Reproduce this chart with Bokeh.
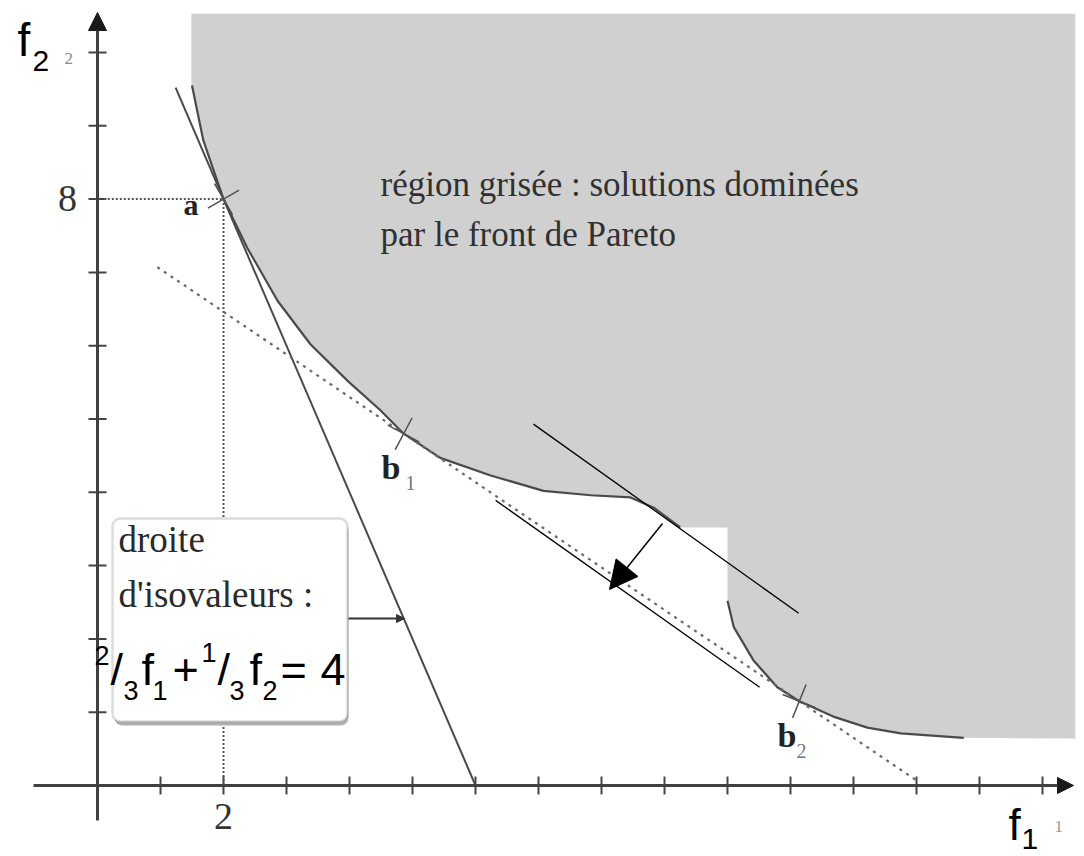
from bokeh.plotting import figure
from bokeh.models import Range1d, Label, Arrow, NormalHead, BoxAnnotation
from bokeh.embed import file_html
from bokeh.resources import INLINE

# ---- data -------------------------------------------------------------
# Pareto front, supported part (upper branch, from top-left down to the gap)
front_upper_f1 = [1.50, 1.68, 2.00, 2.38, 2.86, 3.38, 3.97, 4.49, 4.86, 5.44, 6.24, 7.08, 7.83, 8.46, 8.83, 9.25]
front_upper_f2 = [9.55, 8.80, 8.00, 7.33, 6.61, 6.02, 5.52, 5.12, 4.80, 4.47, 4.23, 4.02, 3.96, 3.93, 3.79, 3.52]
# Pareto front, lower branch after the gap
front_lower_f1 = [10.00, 10.10, 10.41, 10.79, 11.14, 11.68, 12.22, 12.75, 13.75]
front_lower_f2 = [2.52, 2.16, 1.71, 1.34, 1.15, 0.94, 0.79, 0.71, 0.65]

# named points on the front
point_names = ["a", "b", "b"]
point_subs = ["", "1", "2"]
point_f1 = [2.00, 4.86, 11.14]
point_f2 = [8.00, 4.80, 1.15]

# isovalue line  w1*f1 + w2*f2 = c
iso_w1, iso_w2, iso_c = 2 / 3, 1 / 3, 4
iso_f1_span = [1.24, 6.0]

# tangent through b1 and b2, drawn over this f1 span
tangent_f1_span = [0.95, 13.0]

# two parallel iso-lines sweeping toward the front
sweep_upper_f1 = [6.92, 11.13]
sweep_upper_f2 = [4.93, 2.35]
sweep_lower_f1 = [6.32, 10.51]
sweep_lower_f2 = [3.89, 1.34]

# dominated region extent
region_left, region_right = 1.49, 15.52
region_top, region_floor = 10.53, 0.64

# axes
x_ticks = list(range(1, 16))
y_ticks = list(range(1, 11))
x_tick_labels = {2: "2"}
y_tick_labels = {8: "8"}

# ---- pixel <-> data helpers for the 1084x856 canvas -----------------------
W, H = 1084, 856
OX, OY = 97.0, 785.0      # pixel position of the origin
UX, UY = 63.0, 73.3       # pixels per unit


def dx(px):
    return (px - OX) / UX


def dy(py):
    return (OY - py) / UY


p = figure(width=W, height=H, x_range=Range1d(dx(0), dx(W)), y_range=Range1d(dy(H), dy(0)),
           x_axis_type=None, y_axis_type=None, toolbar_location=None,
           output_backend="svg", min_border=0, outline_line_color=None,
           background_fill_color="white", border_fill_color="white")

SERIF = "Liberation Serif"
SANS = "Liberation Sans"
BASE_SHIFT = 0.37   # label box sits this fraction of the font size below the baseline


def label(text, px, py, size, font=SERIF, style="normal", color="#2a2a2a", align="left"):
    """Place a text so that its baseline lands on pixel row py."""
    p.add_layout(Label(x=dx(px), y=dy(py - BASE_SHIFT * size), text=text, text_font=font,
                       text_font_size=f"{size}px", text_font_style=style, text_color=color,
                       text_align=align, text_baseline="alphabetic"))


# ---- dominated (grey) region ------------------------------------------------
region_x = ([region_left, region_right, region_right]
            + front_lower_f1[::-1] + [front_lower_f1[0]]
            + front_upper_f1[::-1])
region_y = ([region_top, region_top, region_floor]
            + front_lower_f2[::-1] + [front_upper_f2[-1]]
            + front_upper_f2[::-1])
region_x.append(region_left)
region_y.append(front_upper_f2[0])
p.patch(region_x, region_y, fill_color="#d0d0d0", line_color=None)

# Pareto front curve
p.line(front_upper_f1, front_upper_f2, line_color="#4a4a4a", line_width=2.2)
p.line(front_lower_f1, front_lower_f2, line_color="#4a4a4a", line_width=2.2)

# ---- axes ---------------------------------------------------------------------
tick_hx, tick_hy = 9 / UX, 9 / UY
p.segment(x0=x_ticks, y0=[-tick_hy] * len(x_ticks), x1=x_ticks, y1=[tick_hy] * len(x_ticks),
          line_color="#444444", line_width=2)
p.segment(x0=[-tick_hx] * len(y_ticks), y0=y_ticks, x1=[tick_hx] * len(y_ticks), y1=y_ticks,
          line_color="#444444", line_width=2)
p.add_layout(Arrow(x_start=dx(33), y_start=0, x_end=dx(1073), y_end=0,
                   line_color="#404040", line_width=3,
                   end=NormalHead(size=16, fill_color="#1a1a1a", line_color="#1a1a1a")))
p.add_layout(Arrow(x_start=0, y_start=dy(820), x_end=0, y_end=dy(12),
                   line_color="#404040", line_width=3,
                   end=NormalHead(size=18, fill_color="#1a1a1a", line_color="#1a1a1a")))
for v, t in x_tick_labels.items():
    label(t, OX + v * UX, 830, 38, align="center", color="#333333")
for v, t in y_tick_labels.items():
    label(t, 67, OY - v * UY + 13, 38, align="center", color="#333333")

# ---- construction lines ------------------------------------------------------------
ax, ay = point_f1[0], point_f2[0]
p.line([0.1, ax], [ay, ay], line_color="#555555", line_width=2, line_dash="2 2")
p.line([ax, ax], [ay, 0], line_color="#555555", line_width=2, line_dash="2 2")

iso_f2 = [(iso_c - iso_w1 * f) / iso_w2 for f in iso_f1_span]
p.line(iso_f1_span, iso_f2, line_color="#4a4a4a", line_width=2)

slope = (point_f2[2] - point_f2[1]) / (point_f1[2] - point_f1[1])
tan_f2 = [point_f2[1] + slope * (f - point_f1[1]) for f in tangent_f1_span]
p.line(tangent_f1_span, tan_f2, line_color="#6a6a6a", line_width=2.2, line_dash="3 5")

p.line(sweep_upper_f1, sweep_upper_f2, line_color="black", line_width=1.3)
p.line(sweep_lower_f1, sweep_lower_f2, line_color="black", line_width=1.3)

# crosses on the named points
p.scatter(point_f1, point_f2, marker="cross", size=36, angle=[30, 62, 68], angle_units="deg",
          line_color="#505050", line_width=1.5)

# sweep arrow
p.add_layout(Arrow(x_start=dx(662), y_start=dy(523), x_end=dx(609), y_end=dy(589),
                   line_color="black", line_width=1.5,
                   end=NormalHead(size=28, fill_color="black", line_color="black")))

# ---- annotation box -----------------------------------------------------------------
p.add_layout(BoxAnnotation(left=dx(114), right=dx(348), top=dy(522), bottom=dy(725),
                           fill_color="#b0b0b0", fill_alpha=1, line_color=None, border_radius=8))
p.add_layout(BoxAnnotation(left=dx(112), right=dx(347), top=dy(518), bottom=dy(721),
                           fill_color="white", fill_alpha=1, line_color="#8a8a8a",
                           line_width=2.5, border_radius=8))
p.add_layout(Arrow(x_start=dx(348), y_start=dy(618), x_end=dx(404), y_end=dy(618),
                   line_color="#333333", line_width=2,
                   end=NormalHead(size=8, fill_color="#333333", line_color="#333333")))

label("droite", 118, 553, 37)
label("d'isovaleurs :", 118, 608, 37)

# formula 2/3 f1 + 1/3 f2 = 4, built from pieces
BIG, SMALL = 45, 27
pieces = [
    ("2", 94, 665, SMALL), ("/", 110, 686, BIG), ("3", 123, 700, SMALL),
    ("f", 141, 686, BIG), ("1", 152, 700, SMALL), ("+", 172, 686, BIG),
    ("1", 201, 662, SMALL), ("/", 217, 686, BIG), ("3", 229, 700, SMALL),
    ("f", 249, 686, BIG), ("2", 262, 700, SMALL), ("=", 280, 686, BIG),
    ("4", 320, 686, BIG),
]
for t, px, py, s in pieces:
    label(t, px, py, s, font=SANS, color="black")

# ---- texts ---------------------------------------------------------------------------
label("région grisée : solutions dominées", 380, 197, 35, color="#303030")
label("par le front de Pareto", 380, 247, 35, color="#303030")

label(point_names[0], 183, 215, 30, style="bold", color="#222222")
label(point_names[1], 381, 480, 34, style="bold", color="#222222")
label(point_subs[1], 405, 490, 20, color="#777777")
label(point_names[2], 777, 748, 34, style="bold", color="#222222")
label(point_subs[2], 796, 758, 20, color="#777777")

# axis names
label("f", 17, 57, 46, font=SANS, color="black")
label("2", 32, 72, 30, font=SANS, color="black")
label("2", 64, 64, 17, color="#888888")
label("f", 1008, 840, 44, font=SANS, color="black")
label("1", 1021, 850, 30, font=SANS, color="black")
label("1", 1054, 832, 17, color="#999999")

open("out.html", "w").write(file_html(p, INLINE))
